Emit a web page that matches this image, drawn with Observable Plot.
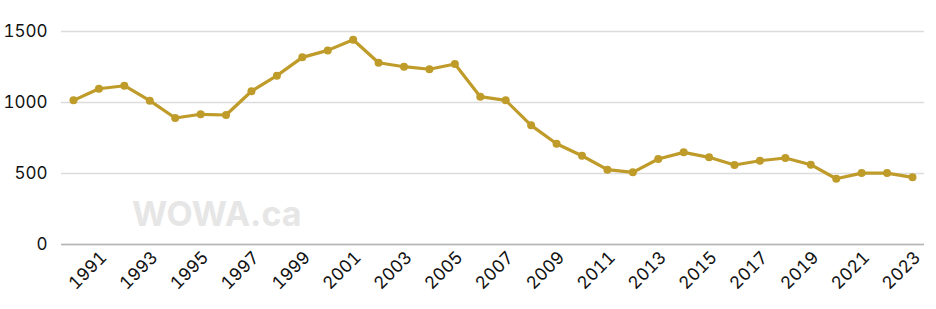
<!DOCTYPE html>
<html>
<head>
<meta charset="utf-8">
<script src="https://cdn.jsdelivr.net/npm/d3@7"></script>
<script src="https://cdn.jsdelivr.net/npm/@observablehq/plot@0.6"></script>
<style>
  html, body { margin: 0; padding: 0; background: #fff; }
  #chart { position: relative; width: 936px; height: 309px; }
  #wm { position: absolute; left: 132px; top: 193px; font-family: Inter, "Open Sans", sans-serif;
        font-weight: 700; font-size: 34px; color: #e6e6e6; letter-spacing: 0px; pointer-events: none; }
</style>
</head>
<body>
<div id="chart"><div id="wm">WOWA.ca</div></div>
<script>
const years = d3.range(1990, 2024);
const values = [1015, 1097, 1118, 1013, 891, 917, 912, 1079, 1189, 1318,
                1367, 1442, 1280, 1252, 1234, 1271, 1041, 1015, 839, 710,
                625, 527, 508, 602, 649, 614, 560, 590, 609, 562,
                463, 503, 503, 473];
const xTicks = d3.range(1991, 2024, 2);
const yTicks = [0, 500, 1000, 1500];

const data = years.map((y, i) => ({year: y, value: values[i]}));
const color = "#bf9b2a";

const chart = Plot.plot({
  width: 936,
  height: 309,
  marginLeft: 61,
  marginRight: 12,
  marginTop: 31,
  marginBottom: 65,
  style: {fontFamily: "Inter, 'Open Sans', sans-serif", fontSize: "17px", color: "#111", background: "transparent"},
  x: {domain: [1990, 2023], inset: 12, label: null},
  y: {domain: [0, 1500], label: null},
  marks: [
    Plot.gridY(yTicks, {stroke: "#dcdcdc", strokeOpacity: 1, strokeWidth: 1.5}),
    Plot.ruleY([0], {stroke: "#b5b5b5", strokeWidth: 1.5}),
    Plot.axisX({ticks: xTicks, tickFormat: "d", tickRotate: -45, tickSize: 0, tickPadding: 10, dx: 5, fontSize: 17.5, label: null}),
    Plot.axisY({ticks: yTicks, tickFormat: "d", tickSize: 0, tickPadding: 14, fontSize: 17, label: null}),
    Plot.line(data, {x: "year", y: "value", stroke: color, strokeWidth: 3.2}),
    Plot.dot(data, {x: "year", y: "value", fill: color, r: 4})
  ]
});
document.getElementById("chart").prepend(chart);
</script>
</body>
</html>
